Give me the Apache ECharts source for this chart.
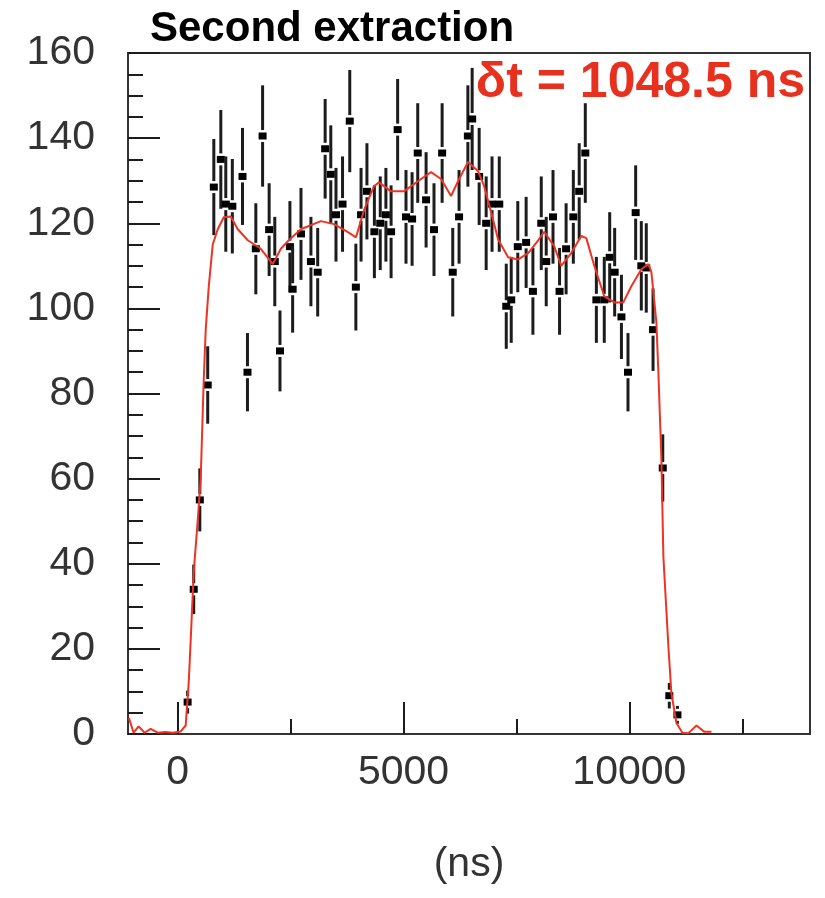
<!DOCTYPE html>
<html>
<head>
<meta charset="utf-8">
<script src="https://cdn.jsdelivr.net/npm/echarts@6/dist/echarts.min.js"></script>
<style>
  html, body { margin: 0; padding: 0; background: #fff; }
  #chart { width: 825px; height: 898px; }
</style>
</head>
<body>
<div id="chart"></div>
<script>
// histogram bins (ns, counts, error)
const binX = [220, 355, 490, 665, 800, 955, 1065, 1210, 1435, 1545, 1730, 1880, 2025, 2150, 2265,
  2485, 2545, 2730, 2950, 3100, 3265, 3390, 3505, 3650, 3810, 3945, 4060, 4190, 4355, 4485,
  4610, 4725, 4870, 5055, 5190, 5315, 5500, 5675, 5855, 6090, 6230, 6425, 6520, 6675, 6830,
  6960, 7120, 7275, 7385, 7530, 7715, 7865, 8050, 8160, 8310, 8455, 8600, 8760, 8890, 9025,
  9270, 9445, 9565, 9675, 9825, 9970, 10140, 10265, 10375, 10525, 10740, 10885, 11065];
const counts = [7.5, 34, 55, 82, 128.5, 135, 124.5, 124, 131, 85, 114, 140.5, 118.5, 111, 90,
  114.5, 104.5, 117.5, 111, 108.5, 137.5, 131.5, 122, 124.5, 144, 105, 122, 127.5, 118, 120,
  122, 118, 142, 121.5, 121, 136.5, 125.5, 118.5, 136.5, 108.5, 121.5, 140.5, 144.5, 131, 120,
  124.5, 124.5, 100.5, 102, 114.5, 115.5, 104, 120, 111, 121.5, 104, 114, 121.5, 127.5, 136.5,
  102, 102, 112, 108.5, 98, 85, 122.5, 110, 109.5, 95, 62.5, 9, 4.5];
const errors = [2.7, 5.8, 7.4, 9.1, 11.3, 11.6, 11.2, 11.1, 11.4, 9.2, 10.7, 11.9, 10.9, 10.5, 9.5,
  10.7, 10.2, 10.8, 10.5, 10.4, 11.7, 11.5, 11, 11.2, 12, 10.2, 11, 11.3, 10.9, 11,
  11, 10.9, 11.9, 11, 11, 11.7, 11.2, 10.9, 11.7, 10.4, 11, 11.9, 12, 11.4, 11,
  11.2, 11.2, 10, 10.1, 10.7, 10.7, 10.2, 11, 10.5, 11, 10.2, 10.7, 11, 11.3, 11.7,
  10.1, 10.1, 10.6, 10.4, 9.9, 9.2, 11.1, 10.5, 10.5, 9.7, 7.9, 3, 2.1];

// red fit curve
const fitX = [-1080, -976, -865, -732, -599, -443, -266, -111, 67, 177, 244, 288, 355, 443, 510,
  576, 621, 687, 776, 887, 1020, 1175, 1330, 1552, 1840, 2106, 2284, 2461, 2727, 3171,
  3459, 3769, 3947, 4124, 4346, 4457, 4723, 5011, 5388, 5610, 5831, 6053, 6231, 6430, 6652,
  6785, 6940, 7095, 7317, 7539, 7761, 7982, 8115, 8337, 8492, 8714, 8936, 9047, 9224, 9446,
  9667, 9867, 10044, 10266, 10421, 10488, 10599, 10643, 10710, 10754, 10865, 10931, 11042, 11175, 11308,
  11486, 11663, 11818];
const fitY = [3.8, 0.3, 1.8, 0.3, 1.2, 0.3, 0.5, 0.3, 0.6, 2, 12, 22, 38, 50, 60,
  83, 95, 105, 115, 118.6, 121.4, 121.6, 118.6, 116, 114, 110.4, 114, 116, 118.6, 120.5,
  119.8, 117.9, 116.7, 123, 128.7, 129.6, 127.5, 127.5, 130.4, 132, 130.4, 126.4, 130.4, 134.4, 132.2,
  128.7, 122.6, 116.2, 112, 111.5, 113, 116, 118, 114.6, 110, 113, 117, 116.5, 110, 102.8,
  101.4, 101.4, 105.2, 109.2, 110.4, 108.5, 96.7, 85, 64.5, 41.6, 20.5, 9.6, 2.6, 0.3, 0.2,
  2, 0.5, 0.5];

const xMajor = [0, 5000, 10000];
const xMinor = [2500, 7500, 12500];

const points = binX.map((x, i) => [x, counts[i], errors[i]]);
const fitLine = fitX.map((x, i) => [x, fitY[i]]);

const chart = echarts.init(document.getElementById('chart'));
const ink = '#1c1c1c';
const labelFont = { fontFamily: 'Liberation Sans', fontSize: 41, color: '#333' };

const option = {
  animation: false,
  grid: { left: 128, right: 15, top: 53, bottom: 164, show: true, borderColor: '#333', borderWidth: 2 },
  xAxis: [{
    type: 'value', min: -1100, max: 14000,
    axisLine: { show: true, onZero: false, lineStyle: { color: '#333', width: 2 } },
    axisTick: { show: true, inside: true, length: 32, customValues: xMajor, lineStyle: { color: ink, width: 2 } },
    axisLabel: Object.assign({ margin: 18, customValues: xMajor, formatter: v => String(v) }, labelFont),
    splitLine: { show: false },
    name: '(ns)', nameLocation: 'middle', nameGap: 110,
    nameTextStyle: { fontFamily: 'Liberation Sans', fontSize: 41, color: '#333' }
  }, {
    type: 'value', min: -1100, max: 14000, position: 'bottom',
    axisLine: { show: false, onZero: false },
    axisTick: { show: true, inside: true, length: 15, customValues: xMinor, lineStyle: { color: ink, width: 2 } },
    axisLabel: { show: false },
    splitLine: { show: false }
  }],
  yAxis: {
    type: 'value', min: 0, max: 160, interval: 20,
    axisLine: { show: true, onZero: false, lineStyle: { color: '#333', width: 2 } },
    axisTick: { show: true, inside: true, length: 32, lineStyle: { color: ink, width: 2 } },
    minorTick: { show: true, splitNumber: 4, length: 15, lineStyle: { color: ink, width: 2 } },
    axisLabel: Object.assign({ margin: 33 }, labelFont),
    splitLine: { show: false }
  },
  series: [{
    type: 'custom',
    data: points,
    z: 2,
    renderItem: function (params, api) {
      const x = api.value(0), y = api.value(1), e = api.value(2);
      const c = api.coord([x, y]);
      const hi = api.coord([x, y + e]);
      const lo = api.coord([x, y - e]);
      const gap = 6;
      const kids = [];
      if (c[1] - hi[1] > gap) {
        kids.push({ type: 'line', shape: { x1: c[0], y1: hi[1], x2: c[0], y2: c[1] - gap },
          style: { stroke: ink, lineWidth: 3 } });
      }
      if (lo[1] - c[1] > gap) {
        kids.push({ type: 'line', shape: { x1: c[0], y1: c[1] + gap, x2: c[0], y2: lo[1] },
          style: { stroke: ink, lineWidth: 3 } });
      }
      kids.push({ type: 'rect', shape: { x: c[0] - 4, y: c[1] - 3.5, width: 8, height: 7 },
        style: { fill: '#000' } });
      return { type: 'group', children: kids };
    }
  }, {
    type: 'line',
    data: fitLine,
    showSymbol: false,
    z: 5,
    lineStyle: { color: '#ee3324', width: 2 }
  }],
  graphic: [{
    type: 'text', left: 150, top: 8,
    style: { text: 'Second extraction', font: 'bold 42px "Liberation Sans"', fill: '#000' }
  }, {
    type: 'text', right: 20, top: 58,
    style: { text: 'δt = 1048.5 ns', font: 'bold 50px "Liberation Sans"', fill: '#e8301f' }
  }]
};

chart.setOption(option);
</script>
</body>
</html>
